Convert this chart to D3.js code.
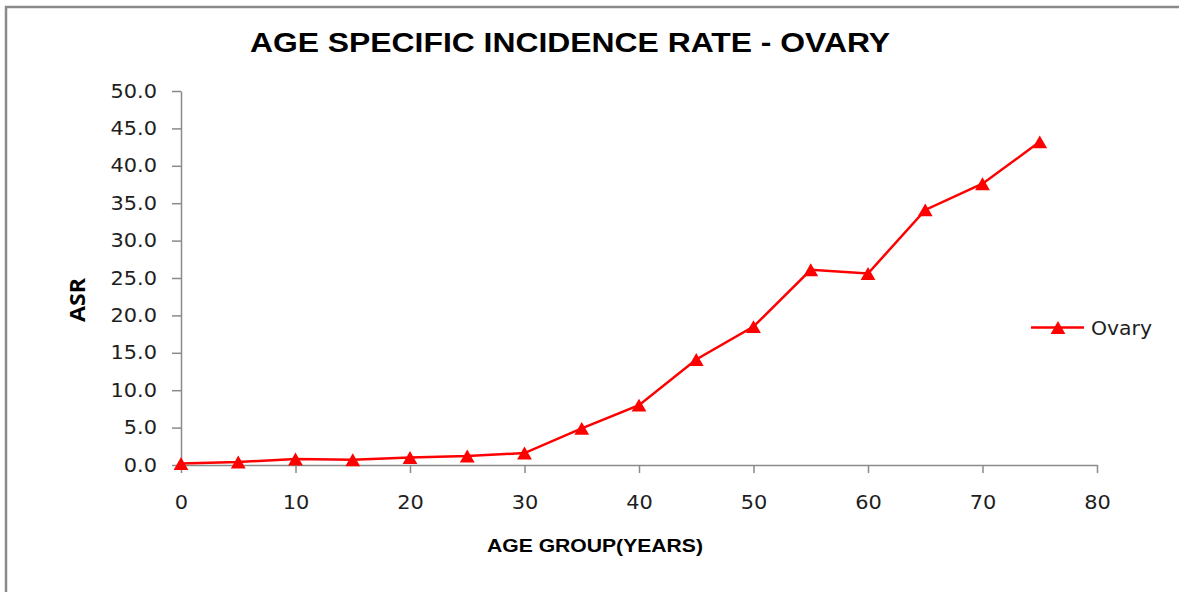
<!DOCTYPE html>
<html lang="en">
<head>
    <meta charset="UTF-8">
    <title>Age Specific Incidence Rate - Ovary</title>
    <script src="https://d3js.org/d3.v7.min.js"></script>
    <style>
        body { margin: 0; background: #fff; }
        .tick text { font-family: "DejaVu Sans", sans-serif; font-size: 19px; fill: #1e1e1e; }
        .axis path, .axis line { stroke: #8a8a8a; stroke-width: 1.5; }
    </style>
</head>
<body>
    <svg width="1179" height="592"></svg>

    <script>
        const ages = [0, 5, 10, 15, 20, 25, 30, 35, 40, 45, 50, 55, 60, 65, 70, 75];
        const ovary = [0.2, 0.4, 0.8, 0.7, 1.0, 1.2, 1.6, 4.9, 8.0, 14.1, 18.5, 26.1, 25.6, 34.1, 37.6, 43.2];
        const xTicks = [0, 10, 20, 30, 40, 50, 60, 70, 80];
        const yTicks = [0, 5, 10, 15, 20, 25, 30, 35, 40, 45, 50];

        const svg = d3.select('svg');
        const stretch = 1.1; // the picture is a bit wider than tall

        // frame (top and left edges only)
        svg.append('path')
            .attr('d', 'M6,592V7H1179')
            .attr('fill', 'none')
            .attr('stroke', '#8a8a8a')
            .attr('stroke-width', 2.5);

        const x = d3.scaleLinear().domain([0, 80]).range([181, 1097]);
        const y = d3.scaleLinear().domain([0, 50]).range([465, 91]);

        const xAxis = svg.append('g')
            .attr('class', 'axis')
            .attr('transform', 'translate(0,465)')
            .call(d3.axisBottom(x).tickValues(xTicks).tickSize(8).tickSizeOuter(0).tickPadding(36));
        xAxis.selectAll('text').attr('dy', 0);

        const yAxis = svg.append('g')
            .attr('class', 'axis')
            .attr('transform', 'translate(181,0)')
            .call(d3.axisLeft(y).tickValues(yTicks).tickSize(9).tickSizeOuter(0).tickPadding(15)
                .tickFormat(d3.format('.1f')));

        svg.selectAll('.tick text').each(function() {
            const len = this.getComputedTextLength();
            d3.select(this).attr('textLength', len * stretch).attr('lengthAdjust', 'spacingAndGlyphs');
        });

        // series line
        const line = d3.line()
            .x((d, i) => x(ages[i]))
            .y(d => y(d));

        svg.append('path')
            .datum(ovary)
            .attr('fill', 'none')
            .attr('stroke', '#ff0000')
            .attr('stroke-width', 2.5)
            .attr('d', line);

        const triSize = 95;
        const triShift = Math.sqrt(triSize / (Math.sqrt(3) * 3)) / 2; // centre the box, not the centroid
        const tri = d3.symbol().type(d3.symbolTriangle).size(triSize);

        svg.selectAll('.marker')
            .data(ovary)
            .enter().append('path')
            .attr('class', 'marker')
            .attr('d', tri)
            .attr('fill', '#ff0000')
            .attr('transform', (d, i) => `translate(${x(ages[i])},${y(d) + triShift})`);

        // legend
        const legend = svg.append('g').attr('transform', 'translate(1031,327.5)');
        legend.append('line')
            .attr('x1', 0).attr('x2', 53)
            .attr('stroke', '#ff0000').attr('stroke-width', 2.5);
        legend.append('path')
            .attr('d', tri)
            .attr('fill', '#ff0000')
            .attr('transform', `translate(27,${triShift})`);
        legend.append('text')
            .attr('x', 60)
            .attr('y', 7)
            .style('font-family', '"DejaVu Sans", sans-serif')
            .style('font-size', '19px')
            .style('fill', '#1e1e1e')
            .attr('textLength', 61)
            .attr('lengthAdjust', 'spacingAndGlyphs')
            .text('Ovary');

        // title
        svg.append('text')
            .attr('x', 570)
            .attr('y', 52)
            .attr('text-anchor', 'middle')
            .style('font-family', '"Liberation Sans", Arial, sans-serif')
            .style('font-weight', 'bold')
            .style('font-size', '27px')
            .attr('textLength', 640)
            .attr('lengthAdjust', 'spacingAndGlyphs')
            .text('AGE SPECIFIC INCIDENCE RATE - OVARY');

        // x-axis label
        svg.append('text')
            .attr('x', 595)
            .attr('y', 552)
            .attr('text-anchor', 'middle')
            .style('font-family', '"Liberation Sans", Arial, sans-serif')
            .style('font-weight', 'bold')
            .style('font-size', '18px')
            .attr('textLength', 216)
            .attr('lengthAdjust', 'spacingAndGlyphs')
            .text('AGE GROUP(YEARS)');

        // y-axis label
        svg.append('text')
            .attr('transform', 'translate(85,300) rotate(-90)')
            .attr('text-anchor', 'middle')
            .style('font-family', '"Open Sans", sans-serif')
            .style('font-weight', 'bold')
            .style('font-size', '21px')
            .attr('textLength', 44)
            .attr('lengthAdjust', 'spacingAndGlyphs')
            .text('ASR');
    </script>
</body>
</html>
